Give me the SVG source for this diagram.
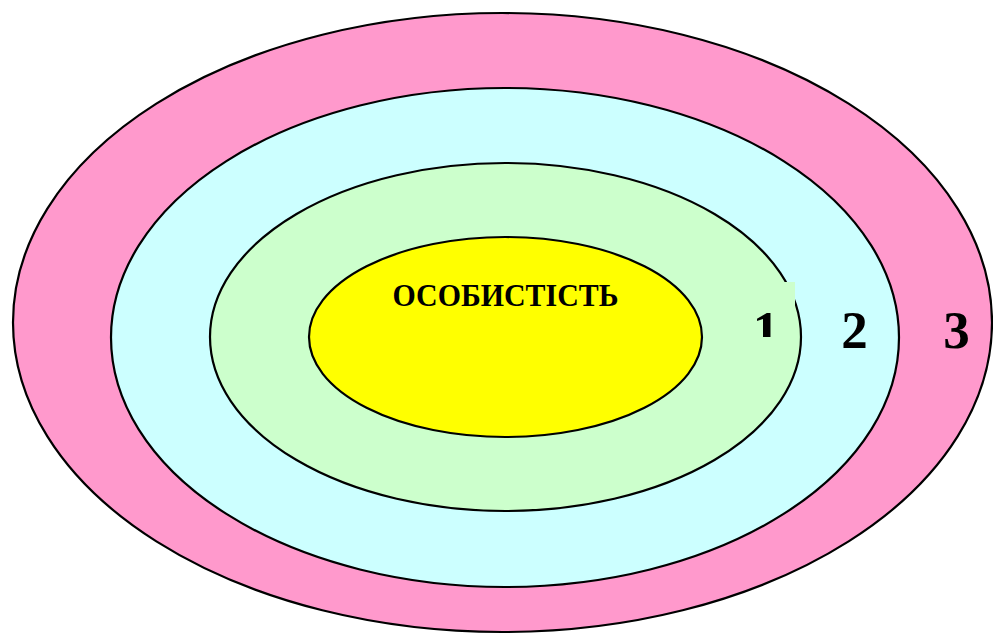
<svg xmlns="http://www.w3.org/2000/svg" width="993" height="634" viewBox="0 0 993 634">
<style>
.ring{stroke:#000;stroke-width:2.2}
.lbl{font-family:"Liberation Serif","Times New Roman",serif;font-weight:bold;fill:#000;text-anchor:middle}
</style>
<defs>
<clipPath id="box1"><rect x="735" y="282" width="60" height="55"/></clipPath>
</defs>
<rect x="0" y="0" width="993" height="634" fill="#fff"/>
<g id="ring3">
<ellipse class="ring" cx="502.5" cy="322.5" rx="489.5" ry="309.5" fill="#FF99CC"/>
</g>
<g id="ring2">
<ellipse class="ring" cx="505" cy="337.5" rx="394" ry="249.5" fill="#CCFFFF"/>
</g>
<g id="ring1">
<ellipse class="ring" cx="505.5" cy="337" rx="295.5" ry="174" fill="#CCFFCC"/>
</g>
<g id="core">
<ellipse class="ring" cx="505.5" cy="337" rx="196.5" ry="100" fill="#FFFF00"/>
<text class="lbl" x="505.5" y="306" font-size="31" textLength="226" lengthAdjust="spacingAndGlyphs">ОСОБИСТІСТЬ</text>
</g>
<g id="label1" clip-path="url(#box1)">
<rect x="735" y="282" width="60" height="55" fill="#CCFFCC"/>
<text class="lbl" x="766" y="348" font-size="53">1</text>
</g>
<g id="label2">
<text class="lbl" x="854.5" y="348" font-size="53">2</text>
</g>
<g id="label3">
<text class="lbl" x="956.5" y="348" font-size="53">3</text>
</g>
<g id="connectors"></g>
</svg>
